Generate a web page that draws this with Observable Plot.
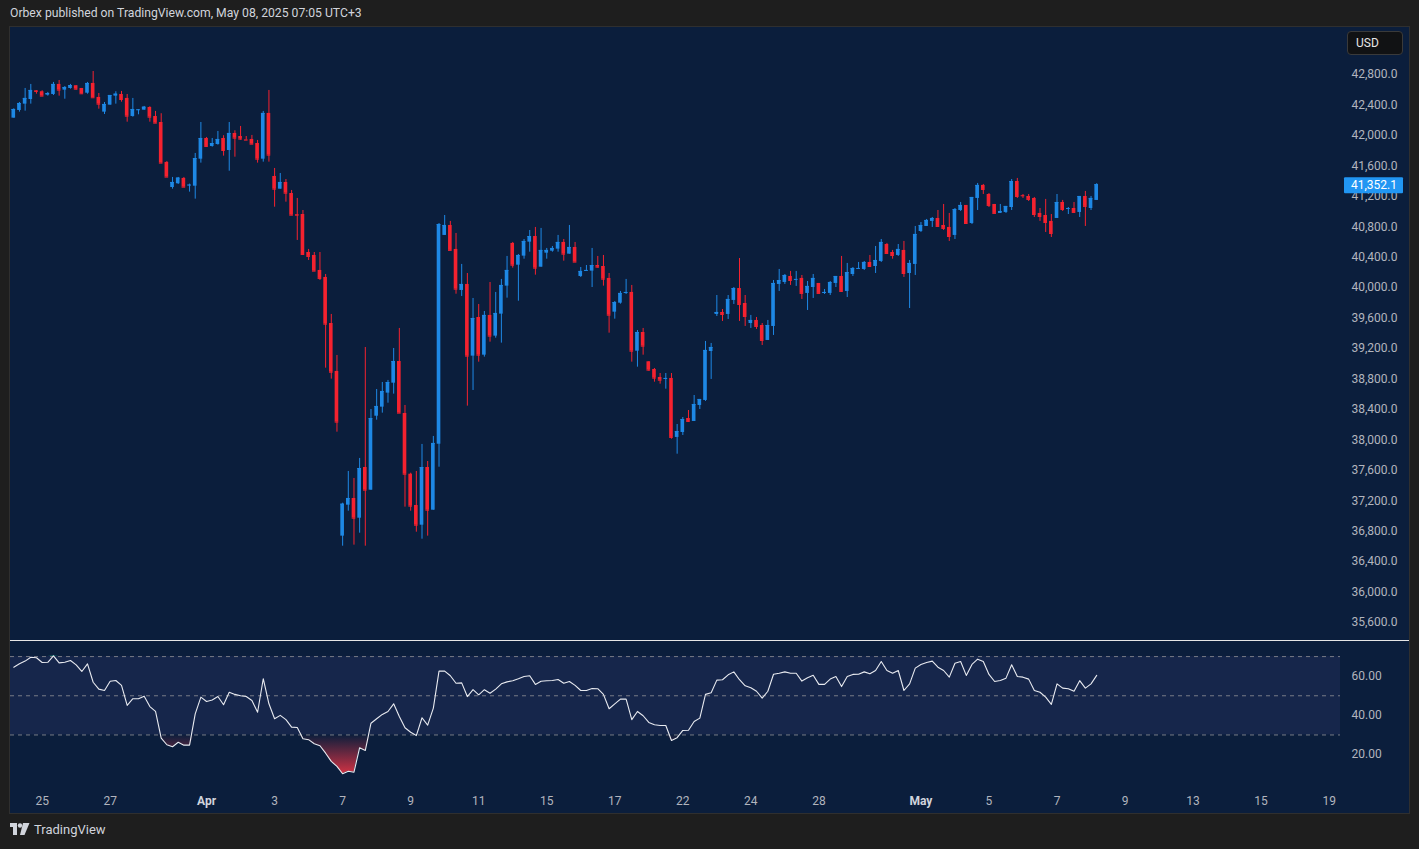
<!DOCTYPE html>
<html><head><meta charset="utf-8">
<script src="https://cdn.jsdelivr.net/npm/d3@7"></script>
<script src="https://cdn.jsdelivr.net/npm/@observablehq/plot@0.6"></script>
<style>
html,body{margin:0;padding:0;background:#1e1e1e;}
body{width:1419px;height:849px;overflow:hidden;position:relative;font-family:Roboto,"Noto Sans",sans-serif;}
#header{position:absolute;left:10px;top:5px;color:#d1d4dc;font-size:12.2px;line-height:16px;white-space:nowrap;}
#panel{position:absolute;left:9px;top:26px;width:1401px;height:788px;box-sizing:border-box;border:1px solid #2f2f2f;background:#0b1e3c;}
#pricewrap{position:absolute;left:0;top:0;}
#sep{position:absolute;left:0;top:613px;width:1399px;height:1px;background:#e6e6e6;}
#rsiwrap{position:absolute;left:0;top:614px;}
#usd{position:absolute;left:1337px;top:4px;width:56px;height:24px;box-sizing:border-box;border:1px solid #3a3a3a;border-radius:4px;background:#111214;color:#e6e6e6;font-size:12px;line-height:22px;padding-left:8px;}
#footer{position:absolute;left:10px;top:822px;color:#d1d4dc;font-size:13px;display:flex;align-items:center;gap:4px;}
svg{overflow:visible;}
</style></head>
<body>
<div id="header">Orbex published on TradingView.com, May 08, 2025 07:05 UTC+3</div>
<div id="panel">
  <div id="pricewrap"></div>
  <div id="sep"></div>
  <div id="rsiwrap"></div>
  <div id="usd">USD</div>
</div>
<div id="footer"><svg width="20" height="13" viewBox="0 0 20 13"><rect x="0" y="0" width="7" height="4" fill="#d1d4dc"/><rect x="3" y="0" width="4" height="12" fill="#d1d4dc"/><circle cx="10" cy="2.5" r="2.2" fill="#d1d4dc"/><polygon points="13,0 19.5,0 14.5,12 10,12" fill="#d1d4dc"/></svg><span>TradingView</span></div>
<script>
// ---- data (4-hour candles, US30 / Dow Jones) ----
const opens = [42226,42327,42410,42471,42586,42573,42528,42537,42669,42594,42616,42652,42616,42554,42682,42498,42305,42397,42515,42537,
42485,42248,42331,42331,42366,42248,42169,41644,41315,41364,41434,41342,41332,41687,41959,41854,41880,41959,41801,42025,
41985,41942,41946,41893,41687,42288,41460,41293,41381,41236,40960,40960,40461,40422,40225,40133,39528,38898,36734,37141,
37229,36970,37636,37338,38310,38429,38613,38744,39029,38346,37548,37137,36878,37636,37075,37942,40685,40816,40501,39962,
40041,39099,39607,39112,39634,39362,39651,40019,40580,40294,40413,40597,40671,40268,40452,40478,40505,40593,40439,40527,
40146,40216,40216,40290,40277,40120,39677,39795,39923,39936,39164,39410,39025,38924,38819,38797,38806,38031,38096,38280,
38241,38451,38517,39160,39647,39673,39647,39831,39988,39791,39528,39568,39502,39305,39489,40041,40067,40146,40103,40120,
39923,40001,40054,39923,39923,40054,40146,39949,40172,40247,40238,40330,40277,40343,40566,40461,40422,40488,40185,40304,
40737,40803,40869,40908,40816,40790,40685,41013,41079,40842,41171,41342,41223,41092,40974,40987,41052,41394,41210,41197,
41171,40974,40947,40869,40908,41118,41035,41039,40987,41197,41039,41145];
const highs = [42349,42432,42616,42669,42586,42586,42564,42695,42721,42642,42669,42652,42616,42695,42839,42550,42432,42524,42573,42577,
42537,42485,42336,42380,42376,42314,42284,41657,41447,41447,41447,41359,41762,42169,41972,41959,42051,41995,42169,42060,
42117,41985,41999,41933,42314,42590,41565,41499,41420,41276,41171,41013,40501,40461,40461,40172,39647,39108,37167,37584,
37492,37755,39213,38398,38661,38753,38780,39200,39463,38451,37561,37584,37939,37715,38044,40842,40947,40869,40711,40304,
40185,39857,39778,39686,40067,39936,40107,40409,40593,40435,40632,40750,40790,40777,40514,40540,40685,40632,40816,40593,
40264,40290,40514,40409,40422,40185,39817,39949,40107,40028,39436,39463,39025,38937,38871,38871,38871,38201,38293,38385,
38582,38530,39292,39266,39896,39712,39896,40001,40382,39896,39634,39607,39528,39568,40093,40238,40172,40212,40212,40159,
40080,40172,40054,39975,40080,40146,40409,40317,40264,40330,40343,40422,40540,40632,40580,40488,40566,40606,40356,40803,
40855,40895,40921,41013,41092,40974,41039,41118,41079,41184,41368,41355,41236,41092,41092,41066,41420,41434,41223,41223,
41184,41039,41158,40960,41223,41145,41052,41118,41197,41263,41197,41365];
const lows = [42226,42305,42318,42410,42541,42515,42515,42524,42515,42475,42607,42594,42541,42541,42494,42344,42274,42397,42410,42436,
42173,42239,42270,42331,42173,42160,41635,41451,41293,41355,41319,41254,41162,41635,41845,41845,41871,41727,41529,41713,
41937,41937,41884,41635,41648,41648,41056,41293,41122,40951,40619,40422,40356,40216,40093,38941,38797,38100,36602,37062,
36616,36773,36602,37338,38258,38350,38481,38600,38350,37115,37062,36786,36694,36734,37075,37640,40685,40488,39913,39883,
38442,38648,39020,39086,39283,39335,39270,39861,40255,39821,40373,40465,40163,40268,40373,40465,40465,40347,40439,40334,
40133,40216,40001,40255,40019,39401,39585,39782,39909,39020,38954,39112,38902,38757,38731,38665,38008,37811,38057,38228,
38241,38398,38504,38793,39620,39555,39581,39778,39555,39489,39463,39450,39239,39305,39371,39949,40041,40028,40015,39844,
39699,39857,39923,39909,39896,40001,39936,39870,40146,40247,40225,40264,40185,40330,40448,40373,40409,40133,39725,40159,
40724,40803,40790,40803,40750,40606,40632,41000,40842,40829,41013,41223,41052,40974,40974,40974,41013,41171,41171,41131,
40921,40869,40724,40658,40908,41000,40960,40974,40921,40803,41013,41145];
const closes = [42340,42419,42485,42590,42577,42515,42550,42669,42594,42629,42655,42607,42546,42682,42494,42410,42406,42524,42541,42471,
42252,42340,42336,42370,42239,42160,41635,41451,41381,41438,41319,41346,41696,41959,41854,41893,41946,41801,42025,41963,
41950,41937,41884,41687,42288,41740,41293,41381,41240,40951,40951,40435,40409,40216,40120,39519,38888,38232,37154,37229,
36970,37623,37338,38280,38438,38635,38753,39029,38350,37548,37128,36878,37636,37075,37952,40829,40816,40488,39979,40041,
39099,39594,39112,39634,39362,39660,40028,40225,40294,40422,40606,40671,40255,40488,40488,40514,40593,40439,40527,40334,
40212,40225,40290,40268,40110,39637,39804,39923,39936,39164,39410,39230,38915,38810,38783,38806,38031,38109,38267,38241,
38464,38530,39174,39213,39673,39647,39844,39988,39778,39620,39568,39489,39305,39502,40054,40093,40159,40093,40107,39923,
40015,40120,39923,39936,40067,40146,39949,40198,40251,40251,40330,40277,40356,40593,40448,40422,40501,40185,40317,40698,
40816,40882,40908,40803,40777,40671,41026,41079,40842,41184,41342,41289,41079,40974,41000,41066,41394,41197,41206,41158,
40960,40934,40855,40711,41118,41026,41039,40987,41197,41066,41171,41352.1];
const rsi = [64.6,66.3,67.7,69.7,69.4,67,67.1,70.4,66.8,67.1,
68,65.8,62.4,66.3,56.9,53.4,52.7,57.4,57.8,55.3,
45.1,48.5,48.5,49.8,44.5,42,28.4,25,24,26.3,
24.8,24.8,40.8,49.3,47.1,47.8,49.6,45.4,51.8,50.7,
50,49.6,47.6,41.6,58.7,45.9,38.3,40,37.8,34,
33.8,28.1,27.6,25.5,24.5,20.7,16.5,14,10.2,11.5,
11,23.5,22.1,36,38.3,40.5,42,45.9,39.4,33.7,
31.4,29.7,38.8,35,43.7,62.6,62.6,60.2,56.4,56.6,
49.6,53.1,50.5,53.1,51.3,53.4,56.1,57.1,57.7,58.7,
59.8,60.2,55.8,57.4,57.7,57.8,58.3,56.4,57.3,55.3,
52.7,52.7,53.7,53.6,50.7,43.4,45.9,48.3,48.3,37.8,
42,39.8,36.4,35.2,34.8,34.8,27.2,28.6,32.3,32.4,
36.9,38.6,50.7,51.5,58,58.2,60.7,62.2,58.2,55.1,
54.1,52.3,48.8,52.3,61,61.5,62.2,61.5,61.5,57.5,
59.2,60.5,55.8,55.8,58.5,59.8,54.7,59.8,60.9,61,
62.2,61.2,62.9,67.5,62.9,61.5,62.9,52.7,56.1,64.1,
66,67,67.7,64.6,62.9,59.5,66.6,67.5,60.4,66,
68.7,67.5,60.9,57.3,57.8,59,65.8,59.8,59.5,58.5,
52.7,51.8,49.3,45.6,56.1,53.9,53.6,52.3,57.7,53.9,
56.1,60.4];
// x-axis tick labels: candle index at which each session starts
const dayTickIdx = [5,17,46,58,70,82,94,106,118,130,142,172,184,196,208,220,232];
const dayTickLabels = ["25","27","3","7","9","11","15","17","22","24","28","5","7","9","13","15","19"];
const monthTickIdx = [34,160];
const monthTickLabels = ["Apr","May"];
const priceTicks = d3.range(35600, 42801, 400);
const rsiTicks = [20,40,60];
const rsiLevels = [30,50,70];

// ---- styling ----
const BLUE = "#1e88e5", RED = "#f5222f";
const AXIS = "#b2b5be";
const W = 1399, PLOT_W = 1330;
const xDomain = [-0.58, 234];

const candles = opens.map((o, i) => ({i, open: o, high: highs[i], low: lows[i], close: closes[i], dir: closes[i] >= o ? "up" : "down"}));
const rsiData = rsi.map((v, i) => ({i, v}));
const color = {domain: ["up", "down"], range: [BLUE, RED]};
const font = {background: "transparent", color: AXIS, fontFamily: "Roboto, 'Noto Sans', sans-serif", fontSize: "12px"};

const price = Plot.plot({
  width: W, height: 613,
  marginLeft: 0, marginRight: W - PLOT_W, marginTop: 0, marginBottom: 0,
  style: font,
  x: {domain: xDomain, axis: null},
  y: {domain: [35363, 43417]},
  color,
  marks: [
    Plot.ruleX(candles, {x: "i", y1: "low", y2: "high", stroke: "dir", strokeWidth: 1}),
    Plot.rect(candles, {x1: d => d.i - 0.32, x2: d => d.i + 0.32, y1: "open", y2: "close", fill: "dir"}),
    Plot.ruleY(candles, {y: "close", x1: d => d.i - 0.32, x2: d => d.i + 0.32, stroke: "dir"}),
    Plot.axisY({anchor: "right", label: null, ticks: priceTicks, tickFormat: d3.format(",.1f"), tickSize: 0, tickPadding: 11})
  ]
});
document.getElementById("pricewrap").appendChild(price);

// last price label on the price axis
{
  const last = closes[closes.length - 1];
  const yy = price.scale("y").apply(last);
  const xr = price.scale("x").range[1];
  const g = d3.select(price).append("g");
  g.append("rect").attr("x", xr + 4).attr("y", yy - 7).attr("width", 59).attr("height", 16).attr("rx", 1).attr("fill", "#2196f3");
  g.append("text").attr("x", xr + 11).attr("y", yy + 1).attr("dy", "0.35em").attr("fill", "#ffffff")
    .attr("text-anchor", "start").attr("font-size", 12).text(d3.format(",.1f")(last));
}

const dayLab = new Map(dayTickIdx.map((t, k) => [t, dayTickLabels[k]]));
const monLab = new Map(monthTickIdx.map((t, k) => [t, monthTickLabels[k]]));

const rsiPlot = Plot.plot({
  width: W, height: 172,
  marginLeft: 0, marginRight: W - PLOT_W, marginTop: 0, marginBottom: 27,
  style: font,
  x: {domain: xDomain},
  y: {domain: [3.7, 77.7]},
  marks: [
    Plot.rect([{lo: 30, hi: 70}], {y1: "lo", y2: "hi", fill: "#16264b"}),
    Plot.areaY(rsiData, {x: "i", y1: 30, y2: d => Math.min(d.v, 30), fill: "url(#osGrad)"}),
    Plot.areaY(rsiData, {x: "i", y1: 70, y2: d => Math.max(d.v, 70), fill: "url(#obGrad)"}),
    Plot.ruleY(rsiLevels, {stroke: "#787b86", strokeDasharray: "4,4"}),
    Plot.lineY(rsiData, {x: "i", y: "v", stroke: "#e8eaf0", strokeWidth: 1.1}),
    Plot.axisY({anchor: "right", label: null, ticks: rsiTicks, tickFormat: d3.format(".2f"), tickSize: 0, tickPadding: 11}),
    Plot.axisX({label: null, ticks: dayTickIdx, tickFormat: d => dayLab.get(d), tickSize: 0, tickPadding: 10}),
    Plot.axisX({label: null, ticks: monthTickIdx, tickFormat: d => monLab.get(d), tickSize: 0, tickPadding: 10, fontWeight: "bold", fill: "#d1d4dc"})
  ]
});
{
  const defs = d3.select(rsiPlot).insert("defs", ":first-child");
  const os = defs.append("linearGradient").attr("id", "osGrad").attr("x1", 0).attr("y1", 0).attr("x2", 0).attr("y2", 1);
  os.append("stop").attr("offset", "0%").attr("stop-color", "#f23645").attr("stop-opacity", 0);
  os.append("stop").attr("offset", "100%").attr("stop-color", "#f23645").attr("stop-opacity", 0.85);
  const ob = defs.append("linearGradient").attr("id", "obGrad").attr("x1", 0).attr("y1", 1).attr("x2", 0).attr("y2", 0);
  ob.append("stop").attr("offset", "0%").attr("stop-color", "#089981").attr("stop-opacity", 0);
  ob.append("stop").attr("offset", "100%").attr("stop-color", "#089981").attr("stop-opacity", 0.85);
}
document.getElementById("rsiwrap").appendChild(rsiPlot);
</script>
</body></html>
